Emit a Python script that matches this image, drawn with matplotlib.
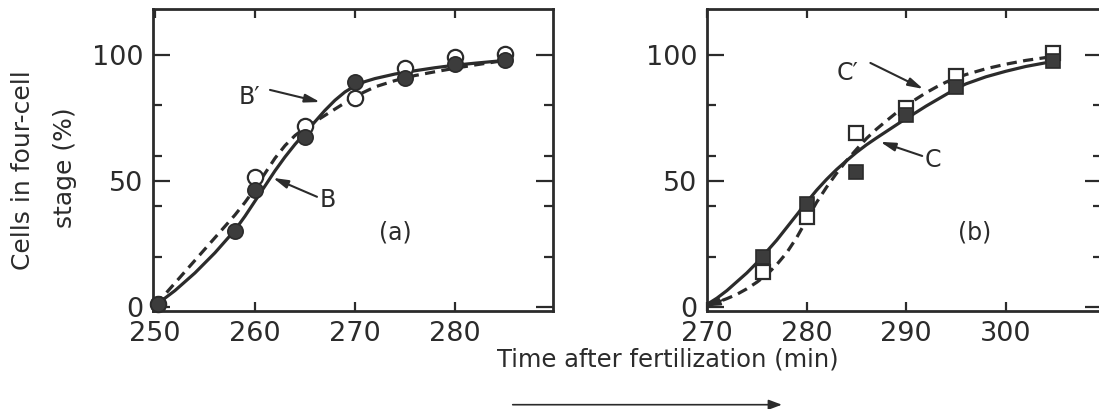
import matplotlib.pyplot as plt

plt.rcParams['font.family'] = 'DejaVu Sans'

ink = '#2b2b2b'
fill = '#3c3c3c'

# panel (a): measured points
a_x = [250.3, 258, 260, 265, 270, 275, 280, 285]
a_filled = [1, 30, 46.5, 67.5, 89.3, 91, 96.5, 97.8]
a_open_x = [250.3, 260, 265, 270, 275, 280, 285]
a_open = [1, 51.6, 71.8, 82.9, 94.8, 99, 100.4]

# panel (a): curves
a_curve_x = [250, 251, 252, 253, 254, 255, 256, 257, 258, 259, 260, 261, 262, 263, 264,
             265, 266, 267, 268, 269, 270, 271, 272, 274, 276, 278, 280, 282, 285]
a_curve_B = [1, 3.5, 6.5, 10, 13.5, 17.5, 21.5, 26, 30.5, 36, 42, 48, 54, 59.5, 64.5,
             69, 73.5, 78, 82, 85.3, 87.7, 89.4, 90.6, 92.4, 93.7, 94.9, 95.9, 96.7, 97.8]
a_dash_x = [250, 251, 252, 253, 254, 255, 256, 257, 258, 259, 260, 261, 262, 263, 264,
            265, 266, 267, 268, 270, 272, 274, 276, 278, 280, 282, 285]
a_curve_B2 = [1, 5, 9.5, 14, 18.5, 23, 27.5, 32, 36.5, 41.5, 47, 53, 59, 64, 68,
              71, 73.5, 76, 78.5, 83.5, 87.3, 89.8, 91.8, 93.3, 94.7, 96, 97.8]

# panel (b): measured points
b_x = [275.6, 280, 285, 290, 295, 304.7]
b_filled = [20, 40.9, 53.6, 76.2, 87.3, 97.4]
b_open = [14, 35.8, 69.2, 78.8, 91.7, 100.7]

# panel (b): curves
b_curve_x = [270, 271, 272, 273, 274, 275, 276, 277, 278, 279, 280, 281, 282, 283, 284, 285,
             286, 287, 288, 289, 290, 291, 292, 293, 294, 295, 296, 298, 300, 302, 305]
b_curve_C = [1, 3.5, 6.5, 10, 13.5, 17.5, 22, 26.5, 31.5, 36.5, 41.5, 46.3, 50.6, 54.5, 58, 61.3,
             64.3, 67, 69.6, 72.2, 74.8, 77.2, 79.7, 82, 84.3, 86.6, 88.5, 91.3, 93.5, 95.4, 97.6]
b_curve_C2 = [0.5, 1.8, 3.3, 5, 7.2, 9.8, 12.8, 16.8, 21.5, 27.5, 34.5, 41.5, 47.5, 53, 58, 62.5,
              66.8, 70.5, 73.8, 77, 79.8, 82.5, 85, 87.2, 89.2, 90.8, 92.2, 94.5, 96.3, 97.8, 99.5]

fig = plt.figure(figsize=(10.99, 4.09), dpi=100)
axA = fig.add_axes([0.1392, 0.2384, 0.3640, 0.7384])
axB = fig.add_axes([0.6433, 0.2384, 0.3590, 0.7384])

dash = (3.2, 2.0)

for ax in (axA, axB):
    ax.set_ylim(-1.8, 118)
    ax.set_yticks([0, 50, 100])
    ax.set_yticks([20, 40, 60, 80], minor=True)
    ax.tick_params(axis='y', which='both', direction='in', left=True, right=True,
                   width=1.6, color=ink, labelsize=19.5, pad=7, labelcolor=ink)
    ax.tick_params(axis='y', which='major', length=12)
    ax.tick_params(axis='y', which='minor', length=6.5)
    ax.tick_params(axis='x', which='major', direction='in', top=True, bottom=True,
                   length=6.5, width=1.6, color=ink, labelsize=19.5, pad=7, labelcolor=ink)
    for s in ax.spines.values():
        s.set_linewidth(2.0)
        s.set_color(ink)

# panel (a)
axA.set_xlim(249.8, 289.8)
axA.set_xticks([250, 260, 270, 280])
axA.plot(a_curve_x, a_curve_B, color=ink, lw=2.3, zorder=2)
axA.plot(a_dash_x, a_curve_B2, color=ink, lw=2.3, dashes=dash, zorder=2)
axA.plot(a_open_x, a_open, 'o', ms=11, mfc='white', mec=ink, mew=1.6, zorder=3, clip_on=False)
axA.plot(a_x, a_filled, 'o', ms=11, mfc=fill, mec=ink, mew=1.2, zorder=4, clip_on=False)

arrow = dict(arrowstyle='-|>,head_length=0.9,head_width=0.25', color=ink, lw=1.5,
             shrinkA=0, shrinkB=0)
axA.annotate('', xy=(266.5, 81.3), xytext=(261.5, 86.1), arrowprops=arrow)
axA.text(259.4, 83.3, 'B\u2032', fontsize=17, ha='center', va='center', color=ink)
axA.annotate('', xy=(261.8, 51.2), xytext=(266.2, 43.7), arrowprops=arrow)
axA.text(267.3, 42.5, 'B', fontsize=17, ha='center', va='center', color=ink)
axA.text(274, 29.4, '(a)', fontsize=17, ha='center', va='center', color=ink)

# panel (b)
axB.set_xlim(270, 309.6)
axB.set_xticks([270, 280, 290, 300])
axB.plot(b_curve_x, b_curve_C, color=ink, lw=2.3, zorder=2)
axB.plot(b_curve_x, b_curve_C2, color=ink, lw=2.3, dashes=dash, zorder=2)
axB.plot(b_x, b_open, 's', ms=10.5, mfc='white', mec=ink, mew=1.6, zorder=3)
axB.plot(b_x, b_filled, 's', ms=10.5, mfc=fill, mec=ink, mew=1.2, zorder=4)
axB.annotate('', xy=(270.1, 0.3), xytext=(271.6, 2.8),
             arrowprops=dict(arrowstyle='-|>,head_length=0.7,head_width=0.25',
                             color=ink, lw=1.5, shrinkA=0, shrinkB=0))

axB.annotate('', xy=(291.7, 86.5), xytext=(286.4, 96.8), arrowprops=arrow)
axB.text(284.1, 92.9, 'C\u2032', fontsize=17, ha='center', va='center', color=ink)
axB.annotate('', xy=(287.4, 65.5), xytext=(291.6, 59.9), arrowprops=arrow)
axB.text(292.7, 58.3, 'C', fontsize=17, ha='center', va='center', color=ink)
axB.text(296.9, 29.4, '(b)', fontsize=17, ha='center', va='center', color=ink)

# shared labels
fig.text(0.0209, 0.5844, 'Cells in four-cell', rotation=90, fontsize=18,
         ha='center', va='center', color=ink)
fig.text(0.0591, 0.589, 'stage (%)', rotation=90, fontsize=18,
         ha='center', va='center', color=ink)
fig.text(0.6078, 0.122, 'Time after fertilization (min)', fontsize=17.5,
         ha='center', va='center', color=ink)
fig.patches.append(plt.matplotlib.patches.FancyArrowPatch(
    (0.464, 0.0105), (0.714, 0.0105), transform=fig.transFigure,
    arrowstyle='-|>,head_length=8,head_width=3', color=ink, lw=1.2))

fig.savefig('out.png', dpi=100)
